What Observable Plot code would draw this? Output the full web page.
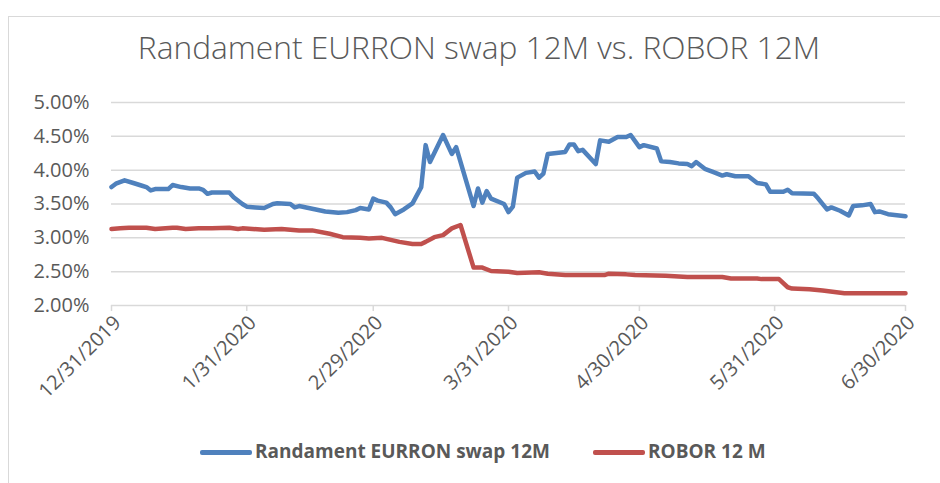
<!DOCTYPE html>
<html><head><meta charset="utf-8">
<script src="https://cdn.jsdelivr.net/npm/d3@7"></script>
<script src="https://cdn.jsdelivr.net/npm/@observablehq/plot@0.6"></script>
<style>
html,body{margin:0;padding:0;background:#fff;overflow:hidden}
#wrap{position:relative;width:940px;height:483px;overflow:hidden;font-family:"Open Sans",sans-serif;color:#595959}
#frame{position:absolute;left:8px;top:16px;width:1000px;height:600px;border:1px solid #d9d9d9}
#title{position:absolute;left:0;top:25px;width:958px;text-align:center;font-size:31.7px;font-weight:300;white-space:nowrap}
#chart{position:absolute;left:0;top:85px}
.leg{position:absolute;top:437px;font-size:19px;font-weight:700;white-space:nowrap;line-height:28px}
.sw{position:absolute;height:5px;top:450px;border-radius:2px}
</style></head>
<body><div id="wrap"><div id="frame"></div><div id="title"></div><div id="chart"></div><div id="legend"></div></div>
<script>
const titleText = "Randament EURRON swap 12M vs. ROBOR 12M";
const seriesNames = ["Randament EURRON swap 12M", "ROBOR 12 M"];
const seriesColors = ["#4F81BD", "#C0504D"];
const yTicks = [2.0, 2.5, 3.0, 3.5, 4.0, 4.5, 5.0];
const xTicks = ["2019-12-31","2020-01-31","2020-02-29","2020-03-31","2020-04-30","2020-05-31","2020-06-30"];

const swapDates = ["2019-12-31","2020-01-01","2020-01-03","2020-01-05","2020-01-07","2020-01-08","2020-01-09","2020-01-10","2020-01-13","2020-01-14","2020-01-16","2020-01-18","2020-01-20","2020-01-21","2020-01-22","2020-01-23","2020-01-27","2020-01-28","2020-01-30","2020-01-31","2020-02-02","2020-02-04","2020-02-06","2020-02-07","2020-02-10","2020-02-11","2020-02-12","2020-02-15","2020-02-18","2020-02-21","2020-02-23","2020-02-25","2020-02-26","2020-02-28","2020-02-29","2020-03-01","2020-03-03","2020-03-04","2020-03-05","2020-03-07","2020-03-09","2020-03-11","2020-03-12","2020-03-13","2020-03-16","2020-03-18","2020-03-19","2020-03-23","2020-03-24","2020-03-25","2020-03-26","2020-03-27","2020-03-30","2020-03-31","2020-04-01","2020-04-02","2020-04-04","2020-04-06","2020-04-07","2020-04-08","2020-04-09","2020-04-13","2020-04-14","2020-04-15","2020-04-16","2020-04-17","2020-04-20","2020-04-21","2020-04-23","2020-04-25","2020-04-27","2020-04-28","2020-04-30","2020-05-01","2020-05-04","2020-05-05","2020-05-07","2020-05-09","2020-05-11","2020-05-12","2020-05-13","2020-05-15","2020-05-17","2020-05-19","2020-05-20","2020-05-22","2020-05-25","2020-05-27","2020-05-29","2020-05-30","2020-06-02","2020-06-03","2020-06-04","2020-06-09","2020-06-10","2020-06-12","2020-06-13","2020-06-15","2020-06-17","2020-06-18","2020-06-20","2020-06-22","2020-06-23","2020-06-24","2020-06-26","2020-06-30"];
const swapValues = [3.75,3.80,3.85,3.81,3.77,3.75,3.70,3.72,3.72,3.78,3.75,3.73,3.73,3.71,3.65,3.67,3.67,3.60,3.50,3.46,3.45,3.44,3.50,3.51,3.50,3.45,3.47,3.43,3.39,3.37,3.38,3.41,3.44,3.42,3.58,3.55,3.52,3.45,3.35,3.42,3.51,3.75,4.37,4.12,4.52,4.24,4.34,3.47,3.73,3.52,3.69,3.58,3.50,3.38,3.46,3.89,3.96,3.98,3.89,3.95,4.24,4.27,4.38,4.38,4.28,4.30,4.09,4.44,4.42,4.49,4.49,4.52,4.34,4.37,4.32,4.13,4.12,4.10,4.09,4.06,4.12,4.02,3.97,3.92,3.94,3.91,3.91,3.81,3.79,3.68,3.68,3.71,3.66,3.65,3.58,3.42,3.45,3.40,3.33,3.47,3.48,3.50,3.38,3.39,3.35,3.32];

const roborDates = ["2019-12-31","2020-01-02","2020-01-04","2020-01-08","2020-01-10","2020-01-14","2020-01-15","2020-01-17","2020-01-20","2020-01-23","2020-01-27","2020-01-29","2020-01-30","2020-02-04","2020-02-08","2020-02-12","2020-02-15","2020-02-19","2020-02-22","2020-02-26","2020-02-28","2020-03-02","2020-03-06","2020-03-09","2020-03-11","2020-03-12","2020-03-14","2020-03-16","2020-03-18","2020-03-20","2020-03-23","2020-03-25","2020-03-27","2020-03-31","2020-04-02","2020-04-07","2020-04-09","2020-04-13","2020-04-22","2020-04-23","2020-04-27","2020-04-29","2020-05-06","2020-05-11","2020-05-19","2020-05-21","2020-05-27","2020-05-28","2020-06-01","2020-06-03","2020-06-04","2020-06-08","2020-06-11","2020-06-16","2020-06-30"];
const roborValues = [3.13,3.14,3.15,3.15,3.13,3.15,3.15,3.13,3.14,3.14,3.15,3.13,3.14,3.12,3.13,3.11,3.11,3.06,3.01,3.00,2.99,3.00,2.94,2.91,2.91,2.94,3.01,3.04,3.14,3.19,2.56,2.56,2.51,2.50,2.48,2.49,2.47,2.45,2.45,2.47,2.46,2.45,2.44,2.42,2.42,2.40,2.40,2.39,2.39,2.27,2.25,2.24,2.22,2.18,2.18];

const parse = d3.utcParse("%Y-%m-%d");
const swap = swapDates.map((d, i) => ({date: parse(d), value: swapValues[i]}));
const robor = roborDates.map((d, i) => ({date: parse(d), value: roborValues[i]}));
const xTickDates = xTicks.map(parse);

document.getElementById("title").textContent = titleText;

const chart = Plot.plot({
  width: 940, height: 330,
  marginTop: 17, marginBottom: 110, marginLeft: 111, marginRight: 35,
  style: {fontFamily: "'Open Sans', sans-serif", fontSize: "20px", color: "#595959", background: "transparent", overflow: "visible"},
  x: {type: "utc", domain: [xTickDates[0], xTickDates[xTickDates.length - 1]], label: null},
  y: {domain: [2, 5], label: null},
  marks: [
    Plot.gridY(yTicks, {stroke: "#d9d9d9", strokeOpacity: 1, strokeWidth: 1.5}),
    Plot.axisY(yTicks, {tickSize: 0, tickPadding: 22, tickFormat: d => d.toFixed(2) + "%", fill: "#595959", fontSize: 20, label: null}),
    Plot.axisX(xTickDates, {tickSize: 6, stroke: "#d9d9d9", strokeOpacity: 1, strokeWidth: 1.5, tickFormat: () => "", label: null}),
    Plot.axisX(xTickDates, {tickSize: 0, tickRotate: -45, tickPadding: 10, dx: 6, dy: 4, tickFormat: d3.utcFormat("%-m/%-d/%Y"), fill: "#595959", fontSize: 20, label: null}),
    Plot.lineY(swap, {x: "date", y: "value", stroke: seriesColors[0], strokeWidth: 4.5, strokeLinejoin: "round", strokeLinecap: "round"}),
    Plot.lineY(robor, {x: "date", y: "value", stroke: seriesColors[1], strokeWidth: 4.5, strokeLinejoin: "round", strokeLinecap: "round"})
  ]
});
document.getElementById("chart").appendChild(chart);

const legend = document.getElementById("legend");
const legPos = [{sw: 200, tx: 255}, {sw: 593, tx: 648}];
seriesNames.forEach((name, i) => {
  const s = document.createElement("div");
  s.className = "sw"; s.style.left = legPos[i].sw + "px"; s.style.width = "52px"; s.style.background = seriesColors[i];
  legend.appendChild(s);
  const t = document.createElement("div");
  t.className = "leg"; t.style.left = legPos[i].tx + "px"; t.textContent = name;
  legend.appendChild(t);
});
</script></body></html>
